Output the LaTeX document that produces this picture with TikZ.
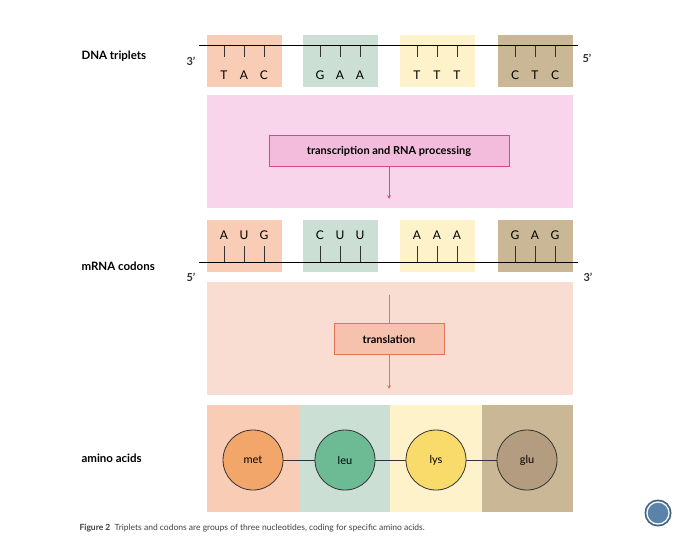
\documentclass[tikz,border=0pt]{standalone}
\usepackage{fontspec}
\setmainfont{Lato}
\begin{document}
\begin{tikzpicture}[x=1pt,y=-1pt,
 lbl/.style={font=\bfseries\fontsize{11.5}{13}\selectfont,anchor=west},
 base/.style={font=\fontsize{12}{14}\selectfont},
 prime/.style={font=\bfseries\fontsize{11}{13}\selectfont,black!80},
 tick/.style={line width=0.9pt,black!80},
 aa/.style={circle,draw=black!80,line width=0.8pt,minimum size=60pt,inner sep=0pt,font=\fontsize{11}{13}\selectfont}]
\definecolor{cS}{HTML}{F9CDB5}\definecolor{cG}{HTML}{CBDFD4}
\definecolor{cY}{HTML}{FDF2C9}\definecolor{cT}{HTML}{CAB795}
\definecolor{pinkbg}{HTML}{F8D5EA}\definecolor{pinkln}{HTML}{D9468F}\definecolor{pinkfill}{HTML}{F3BCDC}
\definecolor{salbg}{HTML}{F9DDD2}\definecolor{salln}{HTML}{E0735A}\definecolor{salfill}{HTML}{F6C2AE}
\definecolor{cMet}{HTML}{F2A66A}\definecolor{cLeu}{HTML}{6DBB95}\definecolor{cLys}{HTML}{F9DB6B}\definecolor{cGlu}{HTML}{B49C80}
\definecolor{blueb}{HTML}{5B82A8}
\fill[white](0,0) rectangle (700,547);
\useasboundingbox (0,0) rectangle (700,547);
% DNA row
\foreach \x/\c/\t in {207/cS/{T,A,C},303/cG/{G,A,A},400/cY/{T,T,T},498/cT/{C,T,C}}{
  \fill[\c] (\x,35) rectangle ++(75,52);
  \foreach \l [count=\i] in \t {
    \draw[tick] (\x+17+\i*20-20,45) -- ++(0,12);
    \node[base] at (\x+17+\i*20-20,75) {\l};}
}
\draw[line width=1pt] (199,45) -- (578,45);
\node[lbl] (dna) at (78,56) {DNA triplets};
\node[prime] (d3) at (191,61) {3’};
\node[prime] (d5) at (587,58) {5’};
% transcription
\fill[pinkbg] (207,95) rectangle (573,208);
\node[draw=pinkln,fill=pinkfill,line width=0.8pt,minimum width=240pt,minimum height=31pt,font=\bfseries\fontsize{11}{13}\selectfont] (tr) at (389,151) {transcription and RNA processing};
\coordinate (tra) at (389,199);
\draw[pinkln,line width=0.7pt,-stealth] (tr.south) -- (tra);
% mRNA row
\foreach \x/\c/\t in {207/cS/{A,U,G},303/cG/{C,U,U},400/cY/{A,A,A},498/cT/{G,A,G}}{
  \fill[\c] (\x,220) rectangle ++(75,52);
  \foreach \l [count=\i] in \t {
    \draw[tick] (\x+17+\i*20-20,246) -- (\x+17+\i*20-20,262);
    \node[base] at (\x+17+\i*20-20,235) {\l};}
}
\draw[line width=1pt] (199,262) -- (578,262);
\node[lbl] (mr) at (78,266) {mRNA codons};
\node[prime] (m5) at (191,277) {5’};
\node[prime] (m3) at (588,277) {3’};
% translation
\fill[salbg] (207,282) rectangle (573,395);
\node[draw=salln,fill=salfill,line width=0.8pt,minimum width=110pt,minimum height=31pt,font=\bfseries\fontsize{11}{13}\selectfont] (tl) at (389,339) {translation};
\coordinate (tlt) at (389,295);
\coordinate (tla) at (389,389);
\draw[salln,line width=0.7pt] (tlt) -- (tl.north);
\draw[salln,line width=0.7pt,-stealth] (tl.south) -- (tla);
% amino acids
\fill[cS] (207,405) rectangle (299,512);
\fill[cG] (299,405) rectangle (390,512);
\fill[cY] (390,405) rectangle (482,512);
\fill[cT] (482,405) rectangle (573,512);
\node[lbl] (am) at (78,458) {amino acids};
\node[aa,fill=cMet] (met) at (253,460) {met};
\node[aa,fill=cLeu] (leu) at (345,460) {leu};
\node[aa,fill=cLys] (lys) at (436,460) {lys};
\node[aa,fill=cGlu] (glu) at (527,460) {glu};
\draw[line width=0.9pt,black!80] (met) -- (leu) (leu) -- (lys) (lys) -- (glu);
% caption
\node[anchor=west,font=\fontsize{8.5}{10}\selectfont,black!75] (cap) at (76,528) {\textbf{Figure 2}\ \ Triplets and codons are groups of three nucleotides, coding for specific amino acids.};
\node[circle,fill=blueb,draw=blueb!70!black,line width=1pt,minimum size=26pt,inner sep=0pt] (bt) at (658,513) {};
\draw[white,line width=1.2pt] (bt) circle (11pt);
\end{tikzpicture}
\end{document}
